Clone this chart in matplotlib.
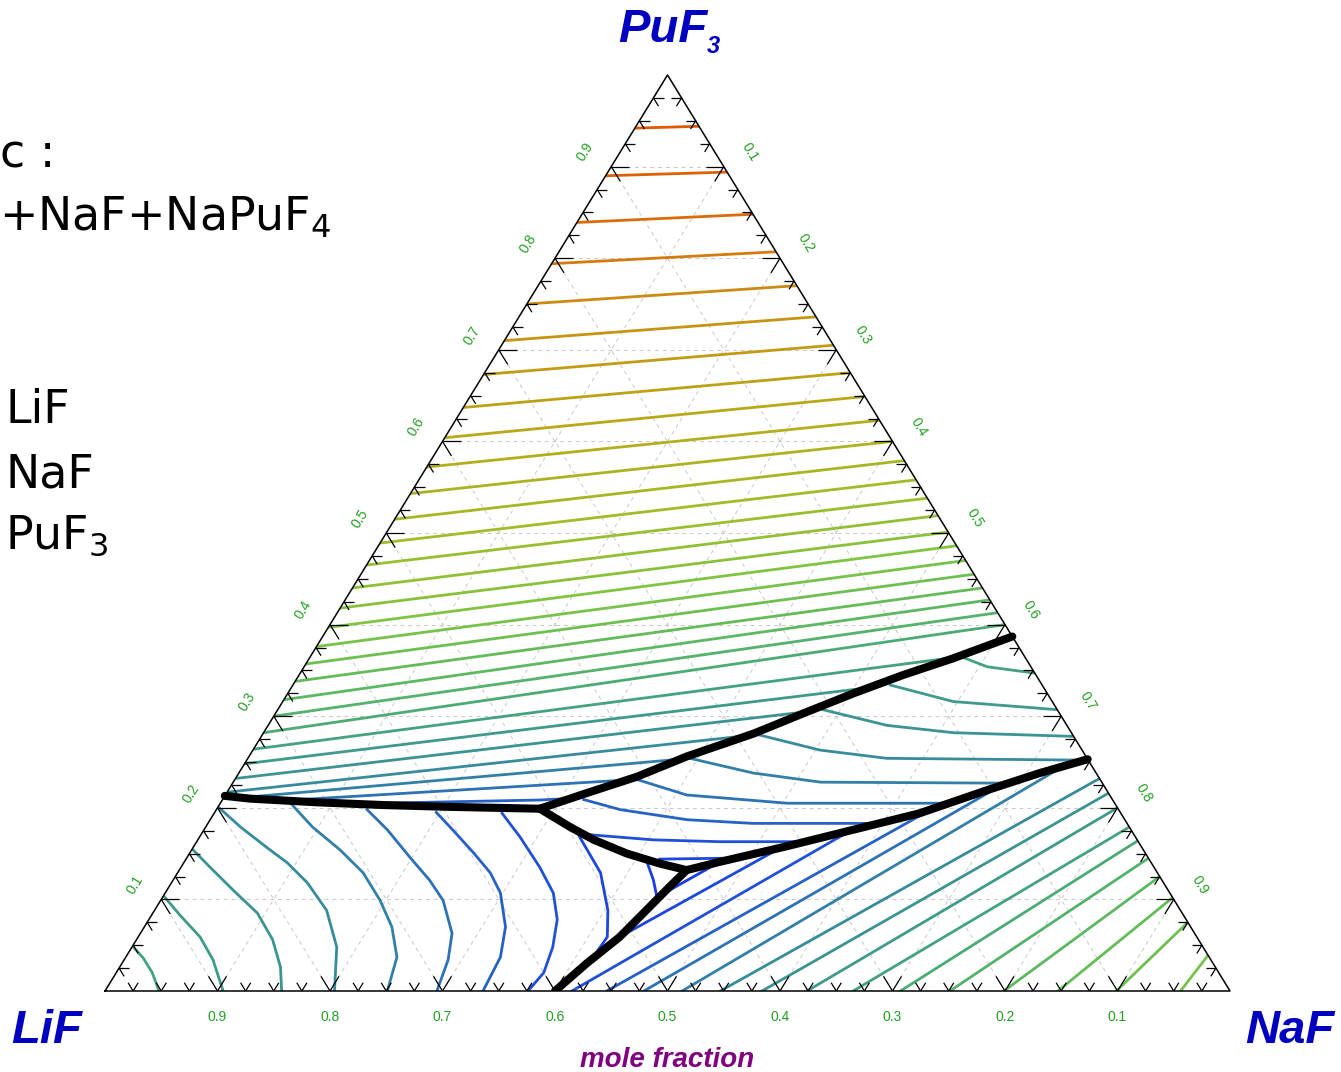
import numpy as np
import matplotlib.pyplot as plt
from matplotlib.colors import LinearSegmentedColormap, Normalize
from matplotlib.collections import LineCollection
from matplotlib.patches import Polygon

plt.rcParams['mathtext.fontset'] = 'custom'
plt.rcParams['mathtext.sf'] = 'DejaVu Sans'

# all compositions are (x_NaF, x_PuF3); x_LiF = 1 - x_NaF - x_PuF3

# univariant lines (P1 = LiF+PuF3+NaPuF4, P2 = ternary eutectic)
b1 = [(0.0, 0.213), (0.024, 0.210), (0.085, 0.206), (0.146, 0.203), (0.206, 0.201), (0.287, 0.199)]
b2 = [(0.287, 0.199), (0.320, 0.216), (0.356, 0.234), (0.389, 0.256), (0.436, 0.281),
      (0.469, 0.303), (0.503, 0.325), (0.537, 0.345), (0.572, 0.363), (0.613, 0.387)]
b3 = [(0.287, 0.199), (0.324, 0.179), (0.352, 0.165), (0.389, 0.150), (0.424, 0.139), (0.451, 0.132)]
b4 = [(0.451, 0.132), (0.476, 0.141), (0.527, 0.158), (0.577, 0.176), (0.627, 0.194),
      (0.674, 0.219), (0.712, 0.238), (0.747, 0.253)]
b5 = [(0.451, 0.132), (0.445, 0.114), (0.437, 0.088), (0.428, 0.059), (0.413, 0.030), (0.400, 0.0)]

# colour scale of the isotherms (deg C)
cmap_T = [600, 650, 700, 750, 800, 850, 900, 950, 1000, 1100, 1200, 1300, 1350, 1400]
cmap_hex = ['#1a3ce6', '#2050d8', '#2c72b4', '#378c9c', '#3e9a8a', '#4aac74', '#5cb862',
            '#6cc050', '#80c440', '#a0bc28', '#b8aa18', '#cc8c10', '#dc6c08', '#e05800']

# PuF3 primary field
up_T = [1400, 1375, 1350, 1325, 1300, 1275, 1250, 1225, 1200, 1175, 1150, 1125, 1100, 1075,
        1050, 1025, 1000, 975, 950, 925, 900, 875, 850, 825, 800, 775, 750]
up_left = [0.942, 0.890, 0.839, 0.794, 0.750, 0.710, 0.673, 0.637, 0.604, 0.572, 0.543, 0.515,
           0.489, 0.465, 0.440, 0.418, 0.397, 0.376, 0.357, 0.338, 0.318, 0.300, 0.282, 0.264,
           0.248, 0.232, 0.217]
up_right = [0.944, 0.894, 0.848, 0.807, 0.770, 0.736, 0.705, 0.675, 0.649, 0.623, 0.600, 0.579,
            0.558, 0.538, 0.519, 0.501, 0.486, 0.470, 0.455, 0.440, 0.427, 0.413, 0.400]
up_ends = [(0.572, 0.364), (0.531, 0.334), (0.485, 0.307), (0.440, 0.280)]
up_short_T = [725, 700, 675]
up_short = [[(0.015, 0.211), (0.393, 0.254)],
            [(0.069, 0.209), (0.357, 0.231)],
            [(0.142, 0.205), (0.282, 0.2085), (0.305, 0.210)]]

# LiF primary field
lif_T = [825, 800, 775, 750, 725, 700, 675, 650, 625, 600]
lif_iso = [
    [(0.0, 0.049), (0.016, 0.036), (0.032, 0.020), (0.048, 0.0)],
    [(0.0, 0.104), (0.025, 0.083), (0.055, 0.059), (0.079, 0.034), (0.105, 0.0)],
    [(0.0, 0.155), (0.026, 0.135), (0.059, 0.110), (0.093, 0.085), (0.121, 0.056), (0.143, 0.026), (0.157, 0.0)],
    [(0.0, 0.201), (0.031, 0.179), (0.065, 0.157), (0.092, 0.140), (0.121, 0.118), (0.153, 0.088),
     (0.182, 0.048), (0.204, 0.0)],
    [(0.065, 0.203), (0.095, 0.179), (0.132, 0.154), (0.165, 0.129), (0.195, 0.099), (0.220, 0.070),
     (0.241, 0.037), (0.251, 0.0)],
    [(0.134, 0.198), (0.163, 0.176), (0.198, 0.146), (0.228, 0.121), (0.251, 0.099), (0.277, 0.063),
     (0.288, 0.034), (0.295, 0.0)],
    [(0.197, 0.195), (0.221, 0.176), (0.252, 0.151), (0.278, 0.129), (0.298, 0.107), (0.321, 0.070),
     (0.333, 0.037), (0.336, 0.0)],
    [(0.256, 0.194), (0.285, 0.168), (0.319, 0.135), (0.345, 0.107), (0.363, 0.078), (0.374, 0.048),
     (0.380, 0.020), (0.376, 0.0)],
    [(0.338, 0.168), (0.376, 0.129), (0.403, 0.088), (0.417, 0.059), (0.416, 0.045)],
    [(0.412, 0.140), (0.427, 0.121), (0.439, 0.103)],
]

# NaPuF4 primary field
nap_T = [825, 800, 775, 750, 725, 700, 675, 650, 625]
nap_iso = [
    [(0.581, 0.364), (0.607, 0.354), (0.653, 0.347)],
    [(0.531, 0.334), (0.596, 0.316), (0.694, 0.307)],
    [(0.485, 0.307), (0.550, 0.290), (0.613, 0.282), (0.721, 0.278)],
    [(0.440, 0.280), (0.504, 0.263), (0.568, 0.254), (0.748, 0.252)],
    [(0.393, 0.254), (0.457, 0.238), (0.522, 0.228), (0.671, 0.227), (0.690, 0.227)],
    [(0.357, 0.231), (0.410, 0.214), (0.504, 0.205), (0.648, 0.205)],
    [(0.321, 0.209), (0.359, 0.198), (0.424, 0.187), (0.484, 0.183), (0.598, 0.183)],
    [(0.341, 0.171), (0.405, 0.165), (0.465, 0.163), (0.542, 0.163)],
    [(0.421, 0.144), (0.483, 0.145)],
]

# NaF primary field
naf_T = [650, 675, 700, 725, 750, 775, 800, 825, 850, 875, 900, 925, 950, 975]
naf_bottom = [0.415, 0.446, 0.479, 0.513, 0.547, 0.584, 0.624, 0.665, 0.707, 0.751, 0.799,
              0.847, 0.899, 0.956]
naf_top = [(0.575, 0.175), (0.635, 0.198), (0.684, 0.224), (0.727, 0.243), (0.768, 0.232),
           (0.784, 0.216), (0.800, 0.200), (0.821, 0.179), (0.836, 0.164), (0.855, 0.145),
           (0.875, 0.125), (0.898, 0.102), (0.925, 0.075), (0.961, 0.039)]
naf_short_T = [625, 600]
naf_short = [[(0.428, 0.059), (0.522, 0.156)], [(0.444, 0.107), (0.476, 0.141)]]


def tern(pts):
    p = np.asarray(pts, float)
    return p[:, 0] + 0.5 * p[:, 1], p[:, 1]


fig = plt.figure(figsize=(13.41, 10.72), dpi=100)
ax = fig.add_axes([105 / 1341, 81 / 1072, 1125 / 1341, 916 / 1072])
ax.set_xlim(0, 1)
ax.set_ylim(0, 1)
ax.axis('off')

norm = Normalize(cmap_T[0], cmap_T[-1])
cmap = LinearSegmentedColormap.from_list(
    'liquidus', [((t - cmap_T[0]) / (cmap_T[-1] - cmap_T[0]), c) for t, c in zip(cmap_T, cmap_hex)])

# dashed composition grid
for k in range(1, 10):
    v = k / 10
    for seg in ([(0, v), (1 - v, v)], [(v, 0), (v, 1 - v)], [(v, 0), (0, v)]):
        x, y = tern(seg)
        ax.plot(x, y, color='#c8c8c8', lw=0.7, ls=(0, (4, 4)), zorder=1)


def field(pts):
    x, y = tern(pts)
    return Polygon(np.column_stack([x, y]), closed=True, transform=ax.transData)


clipA = field([(0, 0.213), (0, 1), (0.613, 0.387)] + b2[::-1] + b1[::-1])
clipB = field([(0, 0), (0.4, 0)] + b5[::-1] + b3[::-1] + b1[::-1])
clipC = field(b2 + [(0.747, 0.253)] + b4[::-1] + b3[::-1])
clipD = field(b4 + [(1, 0), (0.4, 0)] + b5[::-1])


def iso(pts, T, clip):
    x, y = tern(pts)
    ln, = ax.plot(x, y, color=cmap(norm(T)), lw=2.0, zorder=3, solid_joinstyle='round')
    ln.set_clip_path(clip)


for i, T in enumerate(up_T):
    end = (1 - up_right[i], up_right[i]) if i < len(up_right) else up_ends[i - len(up_right)]
    iso([(0, up_left[i]), end], T, clipA)
for pts, T in zip(up_short, up_short_T):
    iso(pts, T, clipA)
for pts, T in zip(lif_iso, lif_T):
    iso(pts, T, clipB)
for pts, T in zip(nap_iso, nap_T):
    iso(pts, T, clipC)
for n0, top, T in zip(naf_bottom, naf_top, naf_T):
    iso([(n0, 0), top], T, clipD)
for pts, T in zip(naf_short, naf_short_T):
    iso(pts, T, clipD)

# univariant lines
for b in (b1, b2, b3, b4, b5):
    x, y = tern(b)
    ax.plot(x, y, color='k', lw=5.8, zorder=5, solid_capstyle='round', solid_joinstyle='round')

# edge ticks every 0.025
segs = []
for k in range(1, 40):
    t = k / 40
    L = 0.016 if k % 4 == 0 else 0.009
    for s in ([(t, 0), (t - L, L)], [(t, 0), (t, L)],
              [(0, t), (L, t)], [(0, t), (L, t - L)],
              [(1 - t, t), (1 - t - L, t)], [(1 - t, t), (1 - t, t - L)]):
        segs.append(np.column_stack(tern(s)))
ax.add_collection(LineCollection(segs, colors='k', lw=0.9, zorder=4))

x, y = tern([(0, 0), (1, 0), (0, 1), (0, 0)])
ax.plot(x, y, color='k', lw=1.1, zorder=6, clip_on=False)

# tick labels
lab = dict(color='#22a022', fontsize=10, family='Liberation Sans', ha='center', va='center',
           rotation_mode='anchor', textcoords='offset points', annotation_clip=False)
for k in range(1, 10):
    v = k / 10
    ax.annotate(f'{1 - v:.1f}', (v, 0), xytext=(0, -19), **lab)
    ax.annotate(f'{v:.1f}', (v / 2, v), xytext=(-19, 10.5), rotation=58.5, **lab)
    ax.annotate(f'{1 - v:.1f}', (1 - v / 2, v), xytext=(19, 10.5), rotation=-58.5, **lab)

corner = dict(color='#0000c0', family='Liberation Sans', style='italic',
              weight='bold', transform=ax.transAxes, va='baseline')
ax.text(0.456, 1.036, 'PuF', ha='left', fontsize=34, **corner)
ax.text(0.535, 1.024, '3', ha='left', fontsize=17, **corner)
ax.text(-0.083, -0.057, 'LiF', ha='left', fontsize=34, **corner)
ax.text(1.093, -0.057, 'NaF', ha='right', fontsize=34, **corner)
ax.text(0.5, -0.083, 'mole fraction', ha='center', va='baseline', transform=ax.transAxes,
        color='#800080', fontsize=20, family='Liberation Sans', style='italic', weight='bold')

side = dict(fontsize=33, family='DejaVu Sans', color='k', ha='left', va='baseline')
fig.text(0.0, 1 - 168 / 1072, 'c :', **side)
fig.text(-0.001, 1 - 230 / 1072, r'+NaF+NaPuF$_\mathsf{4}$', **side)
fig.text(0.004, 1 - 423 / 1072, 'LiF', **side)
fig.text(0.004, 1 - 487 / 1072, 'NaF', **side)
fig.text(0.004, 1 - 548 / 1072, r'PuF$_\mathsf{3}$', **side)

fig.savefig('out.png', dpi=100)
